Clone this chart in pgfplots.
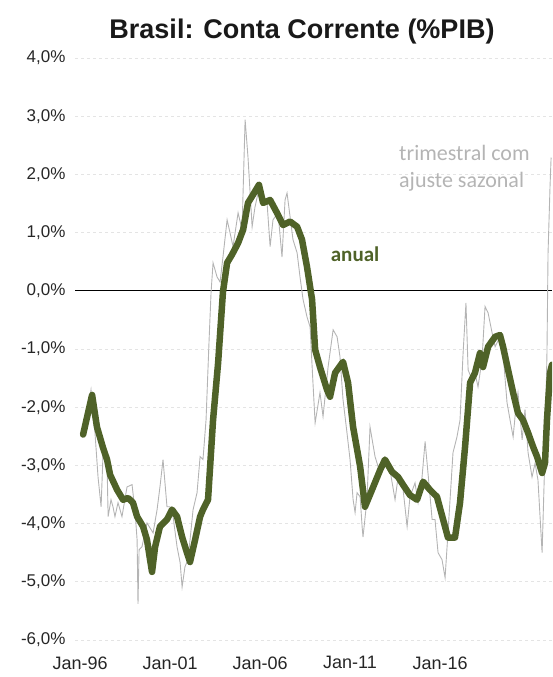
\documentclass[border=0pt]{standalone}
\usepackage{fontspec}
\setmainfont{Liberation Sans}
\newfontfamily\carlito{Carlito}
\usepackage{pgfplots}
\pgfplotsset{compat=1.18}
\definecolor{olive}{RGB}{79,98,40}
\definecolor{trigray}{RGB}{180,180,180}
\definecolor{gridgray}{RGB}{228,228,228}
\begin{document}
\begin{tikzpicture}
\begin{axis}[
  at={(75pt,37pt)}, anchor=south west,
  scale only axis, width=477pt, height=582pt,
  xmin=1995.72, xmax=2022.22, ymin=-6, ymax=4,
  axis line style={draw=none},
  major tick length=0pt,
  xtick={1996,2001,2006,2011,2016},
  xticklabels={Jan-96,Jan-01,Jan-06,Jan-11,Jan-16},
  ytick={-6,-5,-4,-3,-2,-1,0,1,2,3,4},
  yticklabels={{-6,0\%},{-5,0\%},{-4,0\%},{-3,0\%},{-2,0\%},{-1,0\%},{0,0\%},{1,0\%},{2,0\%},{3,0\%},{4,0\%}},
  yticklabel style={font=\fontsize{17}{20}\selectfont, text=black!85, xshift=-6pt},
  xticklabel style={font=\fontsize{18}{21}\selectfont, text=black!85, yshift=-13pt},
  ymajorgrids, grid style={gridgray, dashed, line width=0.6pt},
  clip=true,
]
\addplot[black, line width=0.8pt] coordinates {(1995.72,0) (2022.22,0)};
% trimestral com ajuste sazonal
\addplot[trigray, line width=0.9pt] coordinates {
(1996.17,-2.51) (1996.39,-2.16) (1996.61,-1.70) (1996.83,-2.44) (1997.00,-3.20)
(1997.17,-3.71) (1997.28,-2.78) (1997.50,-2.96) (1997.56,-3.88) (1997.72,-3.59)
(1997.83,-3.71) (1997.94,-3.88) (1998.11,-3.64) (1998.33,-3.88) (1998.61,-3.37)
(1998.89,-3.33) (1999.06,-3.81) (1999.17,-4.28) (1999.22,-5.38) (1999.28,-4.45)
(1999.44,-4.40) (1999.72,-3.99) (2000.06,-4.16) (2000.28,-3.76) (2000.44,-3.37)
(2000.61,-2.90) (2000.83,-3.71) (2001.00,-3.71) (2001.17,-3.88) (2001.39,-4.40)
(2001.56,-4.67) (2001.67,-5.09) (2001.83,-4.74) (2002.00,-4.62) (2002.28,-3.76)
(2002.50,-3.47) (2002.67,-2.85) (2002.83,-2.90) (2003.00,-2.22) (2003.17,-0.84)
(2003.28,-0.02) (2003.39,0.48) (2003.61,0.24) (2003.78,0.15) (2003.94,0.58)
(2004.17,1.22) (2004.33,1.00) (2004.50,0.76) (2004.78,1.34) (2005.00,1.05)
(2005.17,2.94) (2005.33,2.30) (2005.56,1.10) (2005.72,1.44) (2005.89,1.68)
(2006.17,1.56) (2006.39,1.51) (2006.56,0.76) (2006.72,1.22) (2007.00,1.34)
(2007.22,0.58) (2007.39,1.56) (2007.50,1.68) (2007.67,1.27) (2007.83,0.88)
(2008.06,0.65) (2008.22,0.24) (2008.39,-0.15) (2008.61,-0.45) (2008.78,-0.62)
(2008.94,-1.58) (2009.06,-2.27) (2009.33,-1.75) (2009.50,-2.16) (2009.78,-1.31)
(2010.06,-0.67) (2010.28,-0.79) (2010.44,-1.13) (2010.61,-1.87) (2010.83,-2.44)
(2011.00,-2.90) (2011.17,-3.59) (2011.28,-3.81) (2011.39,-3.47) (2011.56,-3.54)
(2011.67,-4.05) (2011.72,-4.23) (2011.94,-3.59) (2012.11,-2.34) (2012.39,-2.85)
(2012.56,-3.02) (2012.83,-2.96) (2013.22,-3.08) (2013.50,-3.59) (2013.67,-3.20)
(2013.89,-3.25) (2014.17,-4.05) (2014.33,-3.54) (2014.61,-3.30) (2014.78,-3.64)
(2015.00,-3.20) (2015.17,-2.59) (2015.33,-3.13) (2015.56,-3.93) (2015.72,-3.93)
(2015.89,-4.50) (2016.11,-4.62) (2016.28,-4.93) (2016.44,-4.16) (2016.72,-2.78)
(2016.94,-2.51) (2017.11,-2.22) (2017.28,-1.07) (2017.44,-0.21) (2017.56,-1.36)
(2017.78,-1.53) (2017.94,-1.41) (2018.11,-1.65) (2018.33,-1.19) (2018.50,-0.27)
(2018.67,-0.38) (2018.89,-0.72) (2019.06,-0.96) (2019.33,-0.79) (2019.50,-1.07)
(2019.72,-1.92) (2019.89,-2.22) (2020.06,-2.51) (2020.22,-1.99) (2020.33,-1.75)
(2020.56,-2.56) (2020.72,-2.04) (2020.89,-2.78) (2021.11,-3.20) (2021.28,-2.96)
(2021.44,-3.25) (2021.67,-4.50) (2021.83,-2.78) (2021.94,-1.07) (2022.00,0.65)
(2022.11,1.79) (2022.17,2.29)
};
% anual
\addplot[olive, line width=6.5pt, line join=round, line cap=round] coordinates {
(1996.17,-2.47) (1996.67,-1.79) (1996.94,-2.34) (1997.28,-2.70) (1997.50,-2.90)
(1997.67,-3.16) (1998.06,-3.42) (1998.39,-3.59) (1998.67,-3.56) (1998.94,-3.64)
(1999.17,-3.88) (1999.50,-4.05) (1999.72,-4.28) (1999.89,-4.62) (2000.00,-4.83)
(2000.17,-4.40) (2000.44,-4.05) (2000.83,-3.93) (2001.11,-3.76) (2001.39,-3.88)
(2001.67,-4.23) (2001.94,-4.50) (2002.11,-4.66) (2002.39,-4.28) (2002.67,-3.88)
(2002.83,-3.76) (2003.11,-3.59) (2003.39,-2.22) (2003.67,-1.24) (2003.94,-0.02)
(2004.17,0.48) (2004.44,0.62) (2004.78,0.82) (2005.06,1.05) (2005.33,1.51)
(2005.61,1.65) (2005.94,1.82) (2006.17,1.51) (2006.56,1.56) (2006.94,1.34)
(2007.28,1.13) (2007.67,1.19) (2008.06,1.10) (2008.33,0.88) (2008.61,0.41)
(2008.89,-0.15) (2009.06,-1.01) (2009.33,-1.31) (2009.72,-1.70) (2009.89,-1.82)
(2010.17,-1.41) (2010.61,-1.22) (2010.89,-1.58) (2011.17,-2.34) (2011.56,-3.02)
(2011.83,-3.71) (2012.22,-3.42) (2012.67,-3.08) (2012.94,-2.90) (2013.33,-3.11)
(2013.67,-3.20) (2013.94,-3.33) (2014.33,-3.51) (2014.72,-3.59) (2015.06,-3.28)
(2015.44,-3.42) (2015.83,-3.54) (2016.17,-3.93) (2016.44,-4.24) (2016.83,-4.24)
(2017.11,-3.64) (2017.39,-2.68) (2017.67,-1.58) (2017.94,-1.41) (2018.22,-1.07)
(2018.39,-1.31) (2018.67,-0.96) (2019.06,-0.79) (2019.33,-0.76) (2019.50,-0.96)
(2019.78,-1.36) (2020.06,-1.75) (2020.33,-2.10) (2020.61,-2.22) (2020.89,-2.44)
(2021.17,-2.68) (2021.39,-2.85) (2021.67,-3.13) (2021.83,-2.96) (2021.94,-2.22)
(2022.11,-1.41) (2022.22,-1.27)
};
\node[font=\carlito\bfseries\fontsize{21}{24}\selectfont, text=olive] at (axis cs:2011.28,0.62) {anual};
\node[font=\carlito\fontsize{22}{27}\selectfont, text=trigray, align=left, anchor=west, inner sep=0pt] at (axis cs:2013.72,2.11) {trimestral com\\ajuste sazonal};
\end{axis}
\node[font=\bfseries\fontsize{27}{32}\selectfont, text=black!90] at (302pt,645pt) {Brasil: Conta Corrente (\%PIB)};
\pgfresetboundingbox
\useasboundingbox (0,0) rectangle (552pt,677pt);
\end{tikzpicture}
\end{document}
